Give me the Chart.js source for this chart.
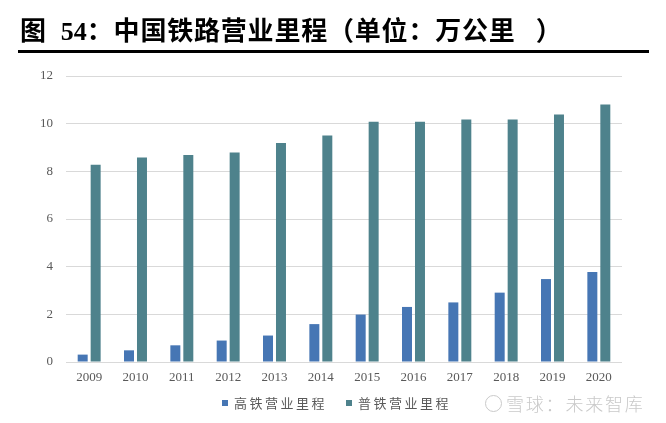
<!DOCTYPE html>
<html>
<head>
<meta charset="utf-8">
<script src="https://cdn.jsdelivr.net/npm/chart.js@4"></script>
<style>
  html, body { margin: 0; padding: 0; background: #ffffff; }
  #wrap { position: relative; width: 666px; height: 423px; overflow: hidden; background: #fff; }
  #title { position: absolute; left: 20px; top: 12px; font-family: "Noto Sans CJK SC", sans-serif; font-weight: 700; font-size: 26px; letter-spacing: 0.8px; color: #000; white-space: nowrap; line-height: 34px; }
  #title .num { font-family: "Liberation Serif", serif; font-weight: 700; margin-left: 14px; letter-spacing: 0; }
  #rule { position: absolute; left: 18px; top: 50px; width: 631px; height: 3px; background: #000; }
  #chartBox { position: absolute; left: 0; top: 0; width: 666px; height: 423px; }
  #legend { position: absolute; left: 222px; top: 394px; display: flex; font-family: "Noto Sans CJK SC", sans-serif; font-size: 13px; color: #595959; letter-spacing: 2.5px; line-height: 18px; white-space: nowrap; }
  #legend .item { display: flex; align-items: center; margin-right: 19px; }
  #legend .sw { width: 6px; height: 6px; margin-right: 6px; }
  #wm { position: absolute; left: 485px; top: 392px; font-family: "Noto Sans CJK SC", sans-serif; font-size: 18px; font-weight: 300; color: #c9c9c9; letter-spacing: 1.8px; white-space: nowrap; line-height: 22px; display: flex; align-items: center; }
  #wm .logo { width: 15px; height: 15px; border: 1.5px solid #c9c9c9; border-radius: 50%; margin-right: 4px; }
</style>
</head>
<body>
<div id="wrap">
  <div id="chartBox"><canvas id="c" width="666" height="423"></canvas></div>
  <div id="title">图<span class="num">54</span>：中国铁路营业里程（单位：万公里<span style="margin-left:20px">）</span></div>
  <div id="rule"></div>
  <div id="legend"></div>
  <div id="wm"><span class="logo"></span>雪球：未来智库</div>
</div>
<script>
const years = ["2009","2010","2011","2012","2013","2014","2015","2016","2017","2018","2019","2020"];
const highSpeed = [0.31, 0.49, 0.70, 0.90, 1.11, 1.59, 1.99, 2.31, 2.50, 2.91, 3.48, 3.78];
const conventional = [8.28, 8.58, 8.69, 8.79, 9.19, 9.50, 10.08, 10.08, 10.18, 10.18, 10.38, 10.80];
const seriesNames = ["高铁营业里程", "普铁营业里程"];
const seriesColors = ["#4676B4", "#4E828C"];
const yTicks = [0, 2, 4, 6, 8, 10, 12];

const chart = new Chart(document.getElementById('c'), {
  type: 'bar',
  data: {
    labels: years,
    datasets: [
      { label: seriesNames[0], data: highSpeed, backgroundColor: seriesColors[0], categoryPercentage: 0.56, barPercentage: 0.77 },
      { label: seriesNames[1], data: conventional, backgroundColor: seriesColors[1], categoryPercentage: 0.56, barPercentage: 0.77 }
    ]
  },
  options: {
    responsive: false,
    animation: false,
    devicePixelRatio: 1,
    layout: { padding: { top: 76, right: 44, bottom: 35, left: 0 } },
    plugins: { legend: { display: false }, tooltip: { enabled: false } },
    scales: {
      x: {
        grid: { display: false, drawTicks: false },
        border: { display: false },
        ticks: { color: '#595959', font: { family: 'Liberation Serif', size: 13 }, padding: 8, maxRotation: 0 },
        afterFit: s => { s.height = 26; }
      },
      y: {
        min: 0, max: 12,
        afterBuildTicks: s => { s.ticks = yTicks.map(v => ({ value: v })); },
        grid: { color: '#d9d9d9', lineWidth: 1, drawTicks: false },
        border: { display: false },
        ticks: { color: '#595959', font: { family: 'Liberation Serif', size: 13 }, padding: 13 },
        afterFit: s => { s.width = 66; }
      }
    }
  }
});

const legend = document.getElementById('legend');
chart.data.datasets.forEach(ds => {
  const it = document.createElement('span');
  it.className = 'item';
  const sw = document.createElement('span');
  sw.className = 'sw';
  sw.style.background = ds.backgroundColor;
  const tx = document.createElement('span');
  tx.textContent = ds.label;
  it.appendChild(sw); it.appendChild(tx);
  legend.appendChild(it);
});
</script>
</body>
</html>
